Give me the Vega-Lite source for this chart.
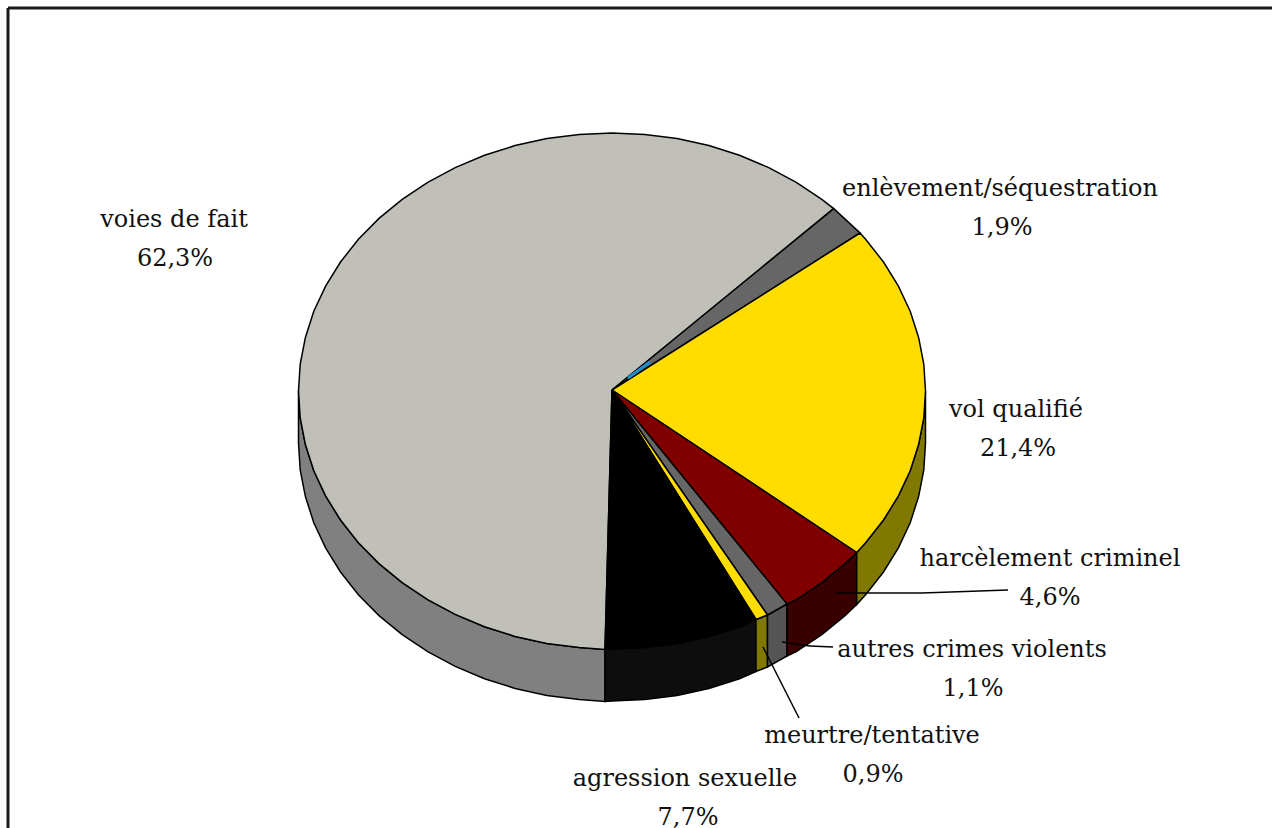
{"$schema":"https://vega.github.io/schema/vega-lite/v6.json","width":1272,"height":828,"padding":0,"autosize":"none","background":"white","config":{"view":{"stroke":null}},
"datasets":{
"tops":[
{"s":"voies de fait","o":0,"x":612,"y":390},{"s":"voies de fait","o":1,"x":833.7,"y":208.6},{"s":"voies de fait","o":2,"x":821.8,"y":199.3},{"s":"voies de fait","o":3,"x":796.3,"y":182.3},{"s":"voies de fait","o":4,"x":768.8,"y":167.6},{"s":"voies de fait","o":5,"x":739.5,"y":155.3},{"s":"voies de fait","o":6,"x":708.9,"y":145.6},{"s":"voies de fait","o":7,"x":677.2,"y":138.6},{"s":"voies de fait","o":8,"x":644.8,"y":134.4},{"s":"voies de fait","o":9,"x":612,"y":133},{"s":"voies de fait","o":10,"x":579.2,"y":134.4},{"s":"voies de fait","o":11,"x":546.8,"y":138.6},{"s":"voies de fait","o":12,"x":515.1,"y":145.6},{"s":"voies de fait","o":13,"x":484.5,"y":155.3},{"s":"voies de fait","o":14,"x":455.2,"y":167.6},{"s":"voies de fait","o":15,"x":427.7,"y":182.3},{"s":"voies de fait","o":16,"x":402.2,"y":199.3},{"s":"voies de fait","o":17,"x":379,"y":218.4},{"s":"voies de fait","o":18,"x":358.4,"y":239.3},{"s":"voies de fait","o":19,"x":340.5,"y":262},{"s":"voies de fait","o":20,"x":325.6,"y":286.1},{"s":"voies de fait","o":21,"x":313.8,"y":311.3},{"s":"voies de fait","o":22,"x":305.4,"y":337.4},{"s":"voies de fait","o":23,"x":300.2,"y":364},{"s":"voies de fait","o":24,"x":298.5,"y":391},{"s":"voies de fait","o":25,"x":300.2,"y":418},{"s":"voies de fait","o":26,"x":305.4,"y":444.6},{"s":"voies de fait","o":27,"x":313.8,"y":470.7},{"s":"voies de fait","o":28,"x":325.6,"y":495.9},{"s":"voies de fait","o":29,"x":340.5,"y":520},{"s":"voies de fait","o":30,"x":358.4,"y":542.7},{"s":"voies de fait","o":31,"x":379,"y":563.6},{"s":"voies de fait","o":32,"x":402.2,"y":582.7},{"s":"voies de fait","o":33,"x":427.7,"y":599.7},{"s":"voies de fait","o":34,"x":455.2,"y":614.4},{"s":"voies de fait","o":35,"x":484.5,"y":626.7},{"s":"voies de fait","o":36,"x":515.1,"y":636.4},{"s":"voies de fait","o":37,"x":546.8,"y":643.4},{"s":"voies de fait","o":38,"x":579.2,"y":647.6},{"s":"voies de fait","o":39,"x":605,"y":649.5},{"s":"voies de fait","o":40,"x":612,"y":390},
{"s":"enlèvement/séquestration","o":0,"x":612,"y":390},{"s":"enlèvement/séquestration","o":1,"x":833.7,"y":208.6},{"s":"enlèvement/séquestration","o":2,"x":860,"y":233},{"s":"enlèvement/séquestration","o":3,"x":612,"y":390},
{"s":"vol qualifié","o":0,"x":612,"y":390},{"s":"vol qualifié","o":1,"x":860,"y":233},{"s":"vol qualifié","o":2,"x":865.6,"y":239.3},{"s":"vol qualifié","o":3,"x":883.5,"y":262},{"s":"vol qualifié","o":4,"x":898.4,"y":286.1},{"s":"vol qualifié","o":5,"x":910.2,"y":311.3},{"s":"vol qualifié","o":6,"x":918.6,"y":337.4},{"s":"vol qualifié","o":7,"x":923.8,"y":364},{"s":"vol qualifié","o":8,"x":925.5,"y":391},{"s":"vol qualifié","o":9,"x":923.8,"y":418},{"s":"vol qualifié","o":10,"x":918.6,"y":444.6},{"s":"vol qualifié","o":11,"x":910.2,"y":470.7},{"s":"vol qualifié","o":12,"x":898.4,"y":495.9},{"s":"vol qualifié","o":13,"x":883.5,"y":520},{"s":"vol qualifié","o":14,"x":865.6,"y":542.7},{"s":"vol qualifié","o":15,"x":856.7,"y":552.5},{"s":"vol qualifié","o":16,"x":612,"y":390},
{"s":"harcèlement criminel","o":0,"x":612,"y":390},{"s":"harcèlement criminel","o":1,"x":856.7,"y":552.5},{"s":"harcèlement criminel","o":2,"x":845,"y":563.6},{"s":"harcèlement criminel","o":3,"x":821.8,"y":582.7},{"s":"harcèlement criminel","o":4,"x":796.3,"y":599.7},{"s":"harcèlement criminel","o":5,"x":787,"y":604},{"s":"harcèlement criminel","o":6,"x":612,"y":390},
{"s":"autres crimes violents","o":0,"x":612,"y":390},{"s":"autres crimes violents","o":1,"x":787,"y":604},{"s":"autres crimes violents","o":2,"x":767.5,"y":615},{"s":"autres crimes violents","o":3,"x":612,"y":390},
{"s":"meurtre/tentative","o":0,"x":612,"y":390},{"s":"meurtre/tentative","o":1,"x":767.5,"y":615},{"s":"meurtre/tentative","o":2,"x":756,"y":619.5},{"s":"meurtre/tentative","o":3,"x":612,"y":390},
{"s":"agression sexuelle","o":0,"x":612,"y":390},{"s":"agression sexuelle","o":1,"x":756,"y":619.5},{"s":"agression sexuelle","o":2,"x":739.5,"y":626.7},{"s":"agression sexuelle","o":3,"x":708.9,"y":636.4},{"s":"agression sexuelle","o":4,"x":677.2,"y":643.4},{"s":"agression sexuelle","o":5,"x":644.8,"y":647.6},{"s":"agression sexuelle","o":6,"x":612,"y":649},{"s":"agression sexuelle","o":7,"x":605,"y":649.5},{"s":"agression sexuelle","o":8,"x":612,"y":390}
],
"walls":[
{"s":"voies de fait","x":298.5,"y":391,"y2":443},{"s":"voies de fait","x":300.2,"y":418,"y2":470},{"s":"voies de fait","x":305.4,"y":444.6,"y2":496.6},{"s":"voies de fait","x":313.8,"y":470.7,"y2":522.7},{"s":"voies de fait","x":325.6,"y":495.9,"y2":547.9},{"s":"voies de fait","x":340.5,"y":520,"y2":572},{"s":"voies de fait","x":358.4,"y":542.7,"y2":594.7},{"s":"voies de fait","x":379,"y":563.6,"y2":615.6},{"s":"voies de fait","x":402.2,"y":582.7,"y2":634.7},{"s":"voies de fait","x":427.7,"y":599.7,"y2":651.7},{"s":"voies de fait","x":455.2,"y":614.4,"y2":666.4},{"s":"voies de fait","x":484.5,"y":626.7,"y2":678.7},{"s":"voies de fait","x":515.1,"y":636.4,"y2":688.4},{"s":"voies de fait","x":546.8,"y":643.4,"y2":695.4},{"s":"voies de fait","x":579.2,"y":647.6,"y2":699.6},{"s":"voies de fait","x":605,"y":649.5,"y2":701.5},
{"s":"agression sexuelle","x":605,"y":649.5,"y2":701.5},{"s":"agression sexuelle","x":612,"y":649,"y2":701},{"s":"agression sexuelle","x":644.8,"y":647.6,"y2":699.6},{"s":"agression sexuelle","x":677.2,"y":643.4,"y2":695.4},{"s":"agression sexuelle","x":708.9,"y":636.4,"y2":688.4},{"s":"agression sexuelle","x":739.5,"y":626.7,"y2":678.7},{"s":"agression sexuelle","x":756,"y":619.5,"y2":671.5},
{"s":"meurtre/tentative","x":756,"y":619.5,"y2":671.5},{"s":"meurtre/tentative","x":767.5,"y":615,"y2":667},
{"s":"autres crimes violents","x":767.5,"y":615,"y2":667},{"s":"autres crimes violents","x":787,"y":604,"y2":656},
{"s":"harcèlement criminel","x":787,"y":604,"y2":656},{"s":"harcèlement criminel","x":796.3,"y":599.7,"y2":651.7},{"s":"harcèlement criminel","x":821.8,"y":582.7,"y2":634.7},{"s":"harcèlement criminel","x":845,"y":563.6,"y2":615.6},{"s":"harcèlement criminel","x":856.7,"y":552.5,"y2":604.5},
{"s":"vol qualifié","x":856.7,"y":552.5,"y2":604.5},{"s":"vol qualifié","x":865.6,"y":542.7,"y2":594.7},{"s":"vol qualifié","x":883.5,"y":520,"y2":572},{"s":"vol qualifié","x":898.4,"y":495.9,"y2":547.9},{"s":"vol qualifié","x":910.2,"y":470.7,"y2":522.7},{"s":"vol qualifié","x":918.6,"y":444.6,"y2":496.6},{"s":"vol qualifié","x":923.8,"y":418,"y2":470},{"s":"vol qualifié","x":925.5,"y":391,"y2":443}
],
"labels":[
{"t":"voies de fait","x":174,"y":220},{"t":"62,3%","x":175,"y":259},
{"t":"enlèvement/séquestration","x":1000,"y":189},{"t":"1,9%","x":1002,"y":228},
{"t":"vol qualifié","x":1016,"y":410},{"t":"21,4%","x":1018,"y":449},
{"t":"harcèlement criminel","x":1050,"y":559},{"t":"4,6%","x":1050,"y":598},
{"t":"autres crimes violents","x":972,"y":650},{"t":"1,1%","x":973,"y":689},
{"t":"meurtre/tentative","x":872,"y":736},{"t":"0,9%","x":873,"y":775},
{"t":"agression sexuelle","x":685,"y":779},{"t":"7,7%","x":688,"y":818}
],
"leaders":[
{"x":835,"y":593,"x2":922,"y2":593},{"x":922,"y":593,"x2":1008,"y2":590},
{"x":782,"y":642,"x2":810,"y2":646},{"x":810,"y":646,"x2":833,"y2":647},
{"x":763,"y":647,"x2":799,"y2":718}
],
"frame":[{"x":8,"y":8,"x2":1272,"y2":8},{"x":8,"y":8,"x2":8,"y2":828}],
"sliver":[{"x":628,"y":378,"x2":650,"y2":362}]
},
"layer":[
{"data":{"name":"frame"},"mark":{"type":"rule","stroke":"#1a1a1a","strokeWidth":3},"encoding":{"x":{"field":"x","type":"quantitative","scale":{"domain":[0,1272],"nice":false,"zero":false},"axis":null},"y":{"field":"y","type":"quantitative","scale":{"domain":[828,0],"nice":false,"zero":false},"axis":null},"x2":{"field":"x2"},"y2":{"field":"y2"}}},
{"data":{"name":"walls"},"mark":{"type":"area","stroke":"#000","strokeWidth":1.5,"interpolate":"linear"},"encoding":{"x":{"field":"x","type":"quantitative","scale":{"domain":[0,1272],"nice":false,"zero":false},"axis":null},"y":{"field":"y","type":"quantitative","scale":{"domain":[828,0],"nice":false,"zero":false},"axis":null},"y2":{"field":"y2"},"color":{"field":"s","type":"nominal","legend":null,"scale":{"domain":["voies de fait","agression sexuelle","meurtre/tentative","autres crimes violents","harcèlement criminel","vol qualifié"],"range":["#808080","#0d0d0d","#807800","#555555","#3a0000","#807800"]}}}},
{"data":{"name":"tops"},"mark":{"type":"line","stroke":"#000","strokeWidth":1.5,"interpolate":"linear"},"encoding":{"x":{"field":"x","type":"quantitative","scale":{"domain":[0,1272],"nice":false,"zero":false},"axis":null},"y":{"field":"y","type":"quantitative","scale":{"domain":[828,0],"nice":false,"zero":false},"axis":null},"order":{"field":"o","type":"quantitative"},"fill":{"field":"s","type":"nominal","legend":null,"scale":{"domain":["voies de fait","enlèvement/séquestration","vol qualifié","harcèlement criminel","autres crimes violents","meurtre/tentative","agression sexuelle"],"range":["#c0c0b8","#666666","#ffdd00","#800000","#666666","#ffdd00","#000000"]}}}},
{"data":{"name":"sliver"},"mark":{"type":"rule","stroke":"#1e90c8","strokeWidth":3},"encoding":{"x":{"field":"x","type":"quantitative","scale":{"domain":[0,1272],"nice":false,"zero":false},"axis":null},"y":{"field":"y","type":"quantitative","scale":{"domain":[828,0],"nice":false,"zero":false},"axis":null},"x2":{"field":"x2"},"y2":{"field":"y2"}}},
{"data":{"name":"leaders"},"mark":{"type":"rule","stroke":"#000","strokeWidth":1.5},"encoding":{"x":{"field":"x","type":"quantitative","scale":{"domain":[0,1272],"nice":false,"zero":false},"axis":null},"y":{"field":"y","type":"quantitative","scale":{"domain":[828,0],"nice":false,"zero":false},"axis":null},"x2":{"field":"x2"},"y2":{"field":"y2"}}},
{"data":{"name":"labels"},"mark":{"type":"text","font":"DejaVu Serif","fontSize":24,"align":"center","baseline":"middle","fill":"#111"},"encoding":{"x":{"field":"x","type":"quantitative","scale":{"domain":[0,1272],"nice":false,"zero":false},"axis":null},"y":{"field":"y","type":"quantitative","scale":{"domain":[828,0],"nice":false,"zero":false},"axis":null},"text":{"field":"t"}}}
],
"resolve":{"scale":{"color":"independent","fill":"independent"}}
}
